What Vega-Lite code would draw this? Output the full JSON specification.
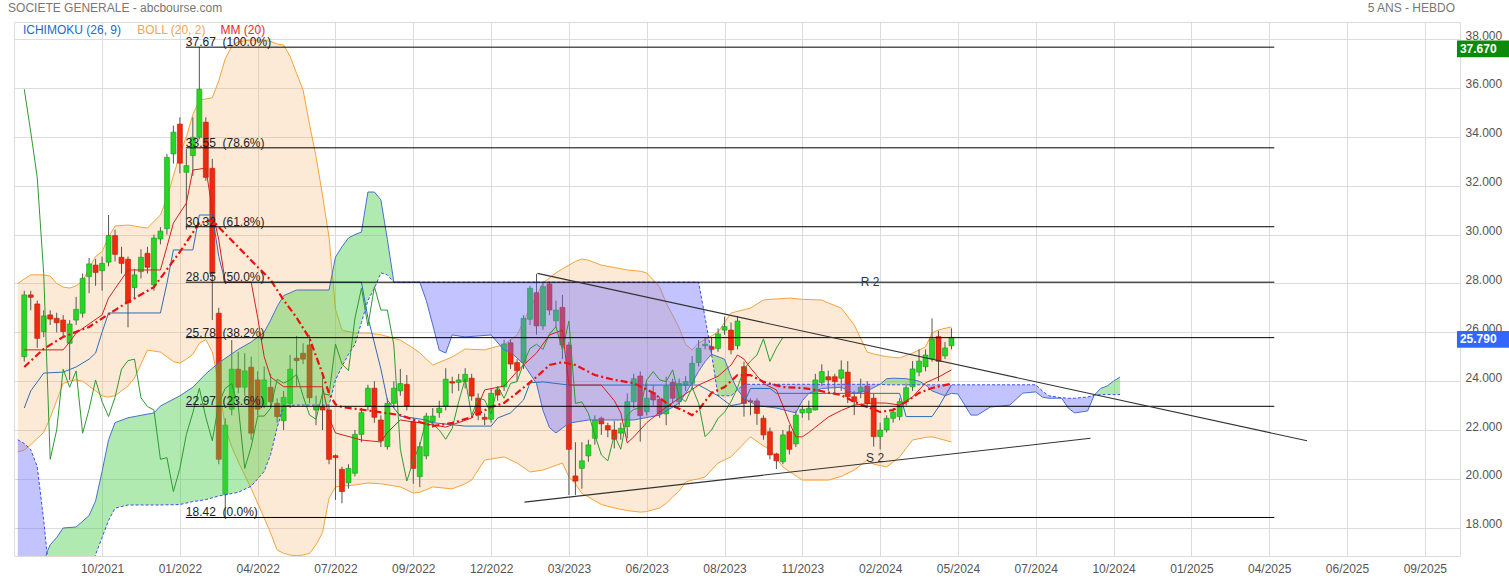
{
"$schema": "https://vega.github.io/schema/vega-lite/v6.json",
"width": 1446, "height": 534,
"autosize": {"type": "none"},
"padding": {"left": 14, "top": 22, "right": 49, "bottom": 24},
"background": "white",
"config": {"view": {"stroke": "#dcdcdc", "strokeWidth": 1}, "font": "Liberation Sans", "text": {"font": "Liberation Sans"}},
"datasets": {
"candles": [
{"d":"2021-08-02","o":25.0,"h":27.7,"l":24.8,"c":27.53,"ck":35.95},
{"d":"2021-08-09","o":27.53,"h":27.7,"l":26.9,"c":27.43,"ck":34.2},
{"d":"2021-08-16","o":27.16,"h":27.3,"l":25.36,"c":25.75,"ck":32.34},
{"d":"2021-08-23","o":26.03,"h":26.9,"l":25.8,"c":26.67,"ck":28.4},
{"d":"2021-08-30","o":26.71,"h":26.9,"l":26.3,"c":26.54,"ck":20.8},
{"d":"2021-09-06","o":26.57,"h":26.8,"l":26.0,"c":26.39,"ck":22.0},
{"d":"2021-09-13","o":26.5,"h":26.7,"l":25.8,"c":26.03,"ck":24.49},
{"d":"2021-09-20","o":25.55,"h":26.5,"l":24.05,"c":26.34,"ck":23.75},
{"d":"2021-09-27","o":26.5,"h":27.45,"l":26.3,"c":26.94,"ck":24.42},
{"d":"2021-10-04","o":26.78,"h":28.4,"l":26.6,"c":28.21,"ck":21.87},
{"d":"2021-10-11","o":28.28,"h":29.04,"l":27.6,"c":28.8,"ck":22.85},
{"d":"2021-10-18","o":28.75,"h":29.0,"l":27.9,"c":28.45,"ck":24.05},
{"d":"2021-10-25","o":28.52,"h":29.1,"l":27.7,"c":28.82,"ck":23.16},
{"d":"2021-11-01","o":28.87,"h":30.8,"l":28.7,"c":29.96,"ck":22.55},
{"d":"2021-11-08","o":29.96,"h":30.2,"l":28.9,"c":29.19,"ck":23.34},
{"d":"2021-11-15","o":29.07,"h":29.5,"l":28.4,"c":28.82,"ck":24.49},
{"d":"2021-11-22","o":28.99,"h":29.1,"l":26.2,"c":27.21,"ck":24.84},
{"d":"2021-11-29","o":27.83,"h":28.6,"l":27.4,"c":28.35,"ck":24.9},
{"d":"2021-12-06","o":28.48,"h":29.4,"l":28.2,"c":29.07,"ck":23.32},
{"d":"2021-12-13","o":29.23,"h":29.5,"l":28.4,"c":28.66,"ck":22.96},
{"d":"2021-12-20","o":27.94,"h":30.0,"l":27.7,"c":29.86,"ck":22.82},
{"d":"2021-12-27","o":29.82,"h":30.3,"l":29.6,"c":30.14,"ck":20.8},
{"d":"2022-01-03","o":30.24,"h":33.3,"l":30.0,"c":33.16,"ck":20.87},
{"d":"2022-01-10","o":33.3,"h":34.46,"l":32.9,"c":34.19,"ck":19.48},
{"d":"2022-01-17","o":34.52,"h":34.8,"l":32.5,"c":32.92,"ck":20.43},
{"d":"2022-01-24","o":32.55,"h":33.5,"l":30.2,"c":32.82,"ck":21.82},
{"d":"2022-01-31","o":33.23,"h":34.8,"l":32.4,"c":33.98,"ck":22.71},
{"d":"2022-02-07","o":33.98,"h":37.67,"l":33.9,"c":35.95,"ck":23.71},
{"d":"2022-02-14","o":34.6,"h":34.8,"l":32.2,"c":32.34,"ck":22.52},
{"d":"2022-02-21","o":32.71,"h":33.1,"l":26.5,"c":28.4,"ck":21.56},
{"d":"2022-02-28","o":26.78,"h":27.0,"l":20.6,"c":20.8,"ck":23.09},
{"d":"2022-03-07","o":19.37,"h":22.48,"l":18.42,"c":22.2,"ck":23.71},
{"d":"2022-03-14","o":22.85,"h":25.68,"l":22.6,"c":24.49,"ck":23.9},
{"d":"2022-03-21","o":24.49,"h":25.2,"l":23.5,"c":23.75,"ck":22.98},
{"d":"2022-03-28","o":23.75,"h":25.14,"l":23.4,"c":24.42,"ck":20.43},
{"d":"2022-04-04","o":24.57,"h":25.0,"l":21.6,"c":21.87,"ck":21.32},
{"d":"2022-04-11","o":24.05,"h":24.4,"l":22.6,"c":22.85,"ck":22.57},
{"d":"2022-04-18","o":23.02,"h":24.6,"l":22.9,"c":24.05,"ck":22.57},
{"d":"2022-04-25","o":23.75,"h":24.3,"l":22.9,"c":23.16,"ck":22.89},
{"d":"2022-05-02","o":23.09,"h":23.3,"l":22.3,"c":22.55,"ck":24.08},
{"d":"2022-05-09","o":22.38,"h":23.6,"l":22.0,"c":23.34,"ck":23.92},
{"d":"2022-05-16","o":23.09,"h":25.07,"l":22.9,"c":24.49,"ck":24.05},
{"d":"2022-05-23","o":24.94,"h":25.85,"l":23.8,"c":24.84,"ck":24.28},
{"d":"2022-05-30","o":25.14,"h":25.55,"l":24.7,"c":24.9,"ck":23.39},
{"d":"2022-06-06","o":25.48,"h":25.89,"l":23.1,"c":23.32,"ck":22.61},
{"d":"2022-06-13","o":22.82,"h":23.4,"l":22.2,"c":22.96,"ck":22.44},
{"d":"2022-06-20","o":22.96,"h":24.18,"l":22.0,"c":22.82,"ck":23.5},
{"d":"2022-06-27","o":22.82,"h":23.0,"l":20.6,"c":20.8,"ck":23.43},
{"d":"2022-07-04","o":20.95,"h":21.0,"l":19.14,"c":20.87,"ck":25.52},
{"d":"2022-07-11","o":20.39,"h":20.5,"l":19.0,"c":19.48,"ck":24.7},
{"d":"2022-07-18","o":19.84,"h":20.6,"l":19.6,"c":20.43,"ck":24.43},
{"d":"2022-07-25","o":20.23,"h":22.0,"l":20.1,"c":21.82,"ck":26.57},
{"d":"2022-08-01","o":21.82,"h":22.9,"l":21.5,"c":22.71,"ck":27.8},
{"d":"2022-08-08","o":22.96,"h":23.85,"l":22.8,"c":23.71,"ck":26.26},
{"d":"2022-08-15","o":23.71,"h":24.0,"l":22.3,"c":22.52,"ck":27.87},
{"d":"2022-08-22","o":22.41,"h":22.6,"l":21.3,"c":21.56,"ck":26.91},
{"d":"2022-08-29","o":21.32,"h":23.3,"l":21.2,"c":23.09,"ck":26.91},
{"d":"2022-09-05","o":23.09,"h":24.0,"l":22.9,"c":23.71,"ck":25.48},
{"d":"2022-09-12","o":23.6,"h":24.5,"l":23.4,"c":23.9,"ck":21.21},
{"d":"2022-09-19","o":23.87,"h":24.25,"l":22.8,"c":22.98,"ck":19.91},
{"d":"2022-09-26","o":22.34,"h":22.5,"l":19.8,"c":20.43,"ck":20.74},
{"d":"2022-10-03","o":20.09,"h":21.5,"l":19.66,"c":21.32,"ck":21.39},
{"d":"2022-10-10","o":20.94,"h":22.7,"l":20.8,"c":22.57,"ck":22.41},
{"d":"2022-10-17","o":22.34,"h":22.9,"l":22.1,"c":22.57,"ck":22.25},
{"d":"2022-10-24","o":22.71,"h":23.2,"l":22.5,"c":22.89,"ck":22.0},
{"d":"2022-10-31","o":22.98,"h":24.53,"l":22.8,"c":24.08,"ck":21.62},
{"d":"2022-11-07","o":23.98,"h":24.18,"l":23.5,"c":23.92,"ck":22.07},
{"d":"2022-11-14","o":23.95,"h":24.3,"l":23.6,"c":24.05,"ck":23.16},
{"d":"2022-11-21","o":23.98,"h":24.53,"l":23.7,"c":24.28,"ck":24.1},
{"d":"2022-11-28","o":24.12,"h":24.3,"l":23.2,"c":23.39,"ck":22.59},
{"d":"2022-12-05","o":23.3,"h":23.5,"l":22.4,"c":22.61,"ck":23.3},
{"d":"2022-12-12","o":22.52,"h":22.68,"l":22.2,"c":22.44,"ck":23.23},
{"d":"2022-12-19","o":22.44,"h":23.7,"l":22.3,"c":23.5,"ck":22.66},
{"d":"2022-12-26","o":23.64,"h":23.8,"l":23.2,"c":23.43,"ck":23.8},
{"d":"2023-01-02","o":23.77,"h":25.7,"l":23.6,"c":25.52,"ck":23.3},
{"d":"2023-01-09","o":25.57,"h":25.7,"l":24.5,"c":24.7,"ck":23.91},
{"d":"2023-01-16","o":24.76,"h":24.9,"l":24.0,"c":24.43,"ck":23.98},
{"d":"2023-01-23","o":24.76,"h":26.7,"l":24.5,"c":26.57,"ck":24.73},
{"d":"2023-01-30","o":26.53,"h":27.9,"l":26.3,"c":27.8,"ck":25.34},
{"d":"2023-02-06","o":27.62,"h":28.39,"l":25.9,"c":26.26,"ck":25.51},
{"d":"2023-02-13","o":26.26,"h":28.07,"l":26.1,"c":27.87,"ck":25.3},
{"d":"2023-02-20","o":27.98,"h":28.07,"l":26.7,"c":26.91,"ck":25.93},
{"d":"2023-02-27","o":26.47,"h":27.3,"l":26.2,"c":26.91,"ck":26.23},
{"d":"2023-03-06","o":27.02,"h":27.53,"l":24.9,"c":25.48,"ck":25.28},
{"d":"2023-03-13","o":25.48,"h":25.6,"l":19.34,"c":21.21,"ck":26.46},
{"d":"2023-03-20","o":20.12,"h":21.5,"l":19.34,"c":19.91,"ck":23.09},
{"d":"2023-03-27","o":20.43,"h":21.5,"l":19.6,"c":20.74,"ck":23.15},
{"d":"2023-04-03","o":20.94,"h":21.6,"l":20.7,"c":21.39,"ck":22.68},
{"d":"2023-04-10","o":21.66,"h":22.6,"l":21.4,"c":22.41,"ck":21.8},
{"d":"2023-04-17","o":22.48,"h":22.55,"l":21.8,"c":22.25,"ck":20.98},
{"d":"2023-04-24","o":22.18,"h":22.3,"l":21.7,"c":22.0,"ck":20.74},
{"d":"2023-05-01","o":22.0,"h":22.38,"l":21.25,"c":21.62,"ck":21.8},
{"d":"2023-05-08","o":21.87,"h":22.3,"l":21.6,"c":22.07,"ck":21.21},
{"d":"2023-05-15","o":22.14,"h":23.5,"l":21.66,"c":23.16,"ck":22.61},
{"d":"2023-05-22","o":23.16,"h":24.3,"l":22.9,"c":24.1,"ck":22.85},
{"d":"2023-05-29","o":24.21,"h":24.4,"l":21.52,"c":22.59,"ck":22.89},
{"d":"2023-06-05","o":22.75,"h":23.91,"l":22.6,"c":23.3,"ck":24.05},
{"d":"2023-06-12","o":23.53,"h":23.84,"l":23.0,"c":23.23,"ck":24.39},
{"d":"2023-06-19","o":23.26,"h":23.36,"l":22.5,"c":22.66,"ck":24.05},
{"d":"2023-06-26","o":22.66,"h":24.18,"l":22.2,"c":23.8,"ck":23.98},
{"d":"2023-07-03","o":23.95,"h":24.1,"l":23.1,"c":23.3,"ck":24.46},
{"d":"2023-07-10","o":23.16,"h":24.1,"l":23.0,"c":23.91,"ck":23.36},
{"d":"2023-07-17","o":23.84,"h":24.2,"l":23.6,"c":23.98,"ck":23.16},
{"d":"2023-07-24","o":23.91,"h":25.03,"l":23.7,"c":24.73,"ck":23.75},
{"d":"2023-07-31","o":24.76,"h":25.68,"l":24.6,"c":25.34,"ck":23.09},
{"d":"2023-08-07","o":25.45,"h":25.8,"l":25.3,"c":25.51,"ck":21.73},
{"d":"2023-08-14","o":25.41,"h":25.8,"l":25.1,"c":25.3,"ck":22.0},
{"d":"2023-08-21","o":25.34,"h":26.16,"l":25.2,"c":25.93,"ck":22.48},
{"d":"2023-08-28","o":26.09,"h":26.64,"l":25.9,"c":26.23,"ck":22.73},
{"d":"2023-09-04","o":26.09,"h":26.4,"l":25.1,"c":25.28,"ck":23.16},
{"d":"2023-09-11","o":25.45,"h":26.67,"l":25.3,"c":26.46,"ck":23.73},
{"d":"2023-09-18","o":24.59,"h":24.8,"l":22.55,"c":23.09,"ck":24.5},
{"d":"2023-09-25","o":23.2,"h":23.3,"l":22.6,"c":23.15,"ck":24.82},
{"d":"2023-10-02","o":23.19,"h":23.3,"l":22.21,"c":22.68,"ck":25.07},
{"d":"2023-10-09","o":22.48,"h":22.6,"l":21.6,"c":21.8,"ck":25.73},
{"d":"2023-10-16","o":21.93,"h":22.1,"l":20.8,"c":20.98,"ck":24.81},
{"d":"2023-10-23","o":21.02,"h":21.07,"l":20.4,"c":20.74,"ck":25.36},
{"d":"2023-10-30","o":20.7,"h":22.0,"l":20.6,"c":21.8,"ck":25.79},
{"d":"2023-11-06","o":21.93,"h":22.2,"l":21.0,"c":21.21},
{"d":"2023-11-13","o":21.43,"h":22.8,"l":21.3,"c":22.61},
{"d":"2023-11-20","o":22.7,"h":23.0,"l":22.5,"c":22.85},
{"d":"2023-11-27","o":22.71,"h":23.2,"l":22.4,"c":22.89},
{"d":"2023-12-04","o":22.82,"h":24.3,"l":22.8,"c":24.05},
{"d":"2023-12-11","o":23.95,"h":24.69,"l":23.8,"c":24.39},
{"d":"2023-12-18","o":24.18,"h":24.43,"l":23.6,"c":24.05},
{"d":"2023-12-25","o":24.18,"h":24.3,"l":23.5,"c":23.98},
{"d":"2024-01-01","o":24.12,"h":24.85,"l":23.6,"c":24.46},
{"d":"2024-01-08","o":24.37,"h":24.82,"l":23.1,"c":23.36},
{"d":"2024-01-15","o":23.36,"h":23.6,"l":22.61,"c":23.16},
{"d":"2024-01-22","o":23.57,"h":24.1,"l":23.3,"c":23.75},
{"d":"2024-01-29","o":23.8,"h":24.0,"l":22.9,"c":23.09},
{"d":"2024-02-05","o":23.3,"h":23.5,"l":21.32,"c":21.73},
{"d":"2024-02-12","o":21.73,"h":22.3,"l":21.2,"c":22.0},
{"d":"2024-02-19","o":22.0,"h":22.6,"l":21.9,"c":22.48},
{"d":"2024-02-26","o":22.48,"h":22.9,"l":22.3,"c":22.73},
{"d":"2024-03-04","o":22.55,"h":23.3,"l":22.4,"c":23.16},
{"d":"2024-03-11","o":23.16,"h":23.9,"l":23.0,"c":23.73},
{"d":"2024-03-18","o":23.77,"h":24.82,"l":23.6,"c":24.5},
{"d":"2024-03-25","o":24.37,"h":25.3,"l":24.2,"c":24.82},
{"d":"2024-04-01","o":24.59,"h":25.3,"l":24.4,"c":25.07},
{"d":"2024-04-08","o":24.91,"h":26.57,"l":24.8,"c":25.73},
{"d":"2024-04-15","o":25.82,"h":26.06,"l":24.0,"c":24.81},
{"d":"2024-04-22","o":25.03,"h":25.6,"l":24.9,"c":25.36},
{"d":"2024-04-29","o":25.45,"h":26.16,"l":25.3,"c":25.79}
],
"boll": [
{"d":"2021-07-26","u":28.0,"l":21.1},{"d":"2021-08-02","u":28.18,"l":21.18},{"d":"2021-08-09","u":28.35,"l":21.4},{"d":"2021-08-23","u":28.35,"l":21.9},{"d":"2021-08-30","u":28.3,"l":22.5},{"d":"2021-09-06","u":28.0,"l":23.2},{"d":"2021-09-13","u":27.85,"l":23.9},{"d":"2021-09-20","u":27.81,"l":24.0},{"d":"2021-09-27","u":27.9,"l":24.05},{"d":"2021-10-04","u":28.1,"l":24.0},{"d":"2021-10-11","u":28.6,"l":23.8},{"d":"2021-10-18","u":29.1,"l":23.6},{"d":"2021-10-25","u":29.3,"l":23.4},{"d":"2021-11-01","u":29.9,"l":23.35},{"d":"2021-11-08","u":30.35,"l":23.4},{"d":"2021-11-22","u":30.39,"l":23.8},{"d":"2021-11-29","u":30.35,"l":24.13},{"d":"2021-12-06","u":30.3,"l":24.7},{"d":"2021-12-13","u":30.27,"l":25.27},{"d":"2021-12-27","u":30.8,"l":25.19},{"d":"2022-01-03","u":31.5,"l":25.0},{"d":"2022-01-10","u":32.4,"l":24.8},{"d":"2022-01-17","u":33.3,"l":24.74},{"d":"2022-01-24","u":34.0,"l":24.9},{"d":"2022-01-31","u":34.9,"l":25.1},{"d":"2022-02-07","u":35.5,"l":25.55},{"d":"2022-02-14","u":35.55,"l":25.7},{"d":"2022-02-21","u":35.6,"l":25.2},{"d":"2022-02-28","u":36.3,"l":23.9},{"d":"2022-03-07","u":37.2,"l":22.1},{"d":"2022-03-14","u":37.7,"l":21.3},{"d":"2022-03-21","u":37.9,"l":20.7},{"d":"2022-04-04","u":37.96,"l":19.6},{"d":"2022-04-18","u":37.96,"l":18.4},{"d":"2022-04-25","u":37.9,"l":17.78},{"d":"2022-05-02","u":37.8,"l":17.09},{"d":"2022-05-09","u":37.76,"l":16.95},{"d":"2022-05-16","u":37.3,"l":16.88},{"d":"2022-05-23","u":36.6,"l":16.86},{"d":"2022-05-30","u":35.92,"l":16.88},{"d":"2022-06-06","u":34.5,"l":16.95},{"d":"2022-06-13","u":33.2,"l":17.3},{"d":"2022-06-20","u":31.6,"l":17.8},{"d":"2022-06-27","u":29.9,"l":19.2},{"d":"2022-07-04","u":26.95,"l":19.67},{"d":"2022-07-11","u":26.09,"l":19.7},{"d":"2022-07-25","u":25.97,"l":19.75},{"d":"2022-08-08","u":25.97,"l":19.83},{"d":"2022-08-22","u":25.9,"l":19.8},{"d":"2022-09-12","u":25.68,"l":19.67},{"d":"2022-09-26","u":25.35,"l":19.42},{"d":"2022-10-03","u":25.15,"l":19.45},{"d":"2022-10-17","u":24.66,"l":19.67},{"d":"2022-11-07","u":24.99,"l":19.59},{"d":"2022-11-21","u":25.32,"l":19.8},{"d":"2022-11-28","u":25.3,"l":19.95},{"d":"2022-12-12","u":25.28,"l":20.77},{"d":"2023-01-02","u":25.5,"l":20.9},{"d":"2023-01-16","u":25.89,"l":20.65},{"d":"2023-01-30","u":26.99,"l":20.28},{"d":"2023-02-13","u":28.02,"l":20.36},{"d":"2023-02-27","u":28.43,"l":20.55},{"d":"2023-03-06","u":28.6,"l":20.65},{"d":"2023-03-13","u":28.75,"l":20.08},{"d":"2023-03-20","u":28.9,"l":19.8},{"d":"2023-03-27","u":29.0,"l":19.4},{"d":"2023-04-03","u":28.95,"l":19.26},{"d":"2023-04-17","u":28.75,"l":18.95},{"d":"2023-05-01","u":28.65,"l":18.81},{"d":"2023-05-15","u":28.55,"l":18.7},{"d":"2023-05-29","u":28.5,"l":18.64},{"d":"2023-06-05","u":28.43,"l":18.66},{"d":"2023-06-19","u":27.85,"l":18.81},{"d":"2023-06-26","u":27.2,"l":19.0},{"d":"2023-07-03","u":26.7,"l":19.26},{"d":"2023-07-10","u":26.18,"l":19.5},{"d":"2023-07-17","u":25.5,"l":19.87},{"d":"2023-07-24","u":25.28,"l":19.95},{"d":"2023-07-31","u":25.56,"l":20.0},{"d":"2023-08-07","u":25.7,"l":20.08},{"d":"2023-08-21","u":26.01,"l":20.65},{"d":"2023-09-04","u":26.79,"l":20.9},{"d":"2023-09-25","u":26.99,"l":21.72},{"d":"2023-10-09","u":27.32,"l":21.35},{"d":"2023-10-16","u":27.35,"l":21.2},{"d":"2023-10-30","u":27.38,"l":20.49},{"d":"2023-11-06","u":27.4,"l":20.3},{"d":"2023-11-20","u":27.35,"l":19.95},{"d":"2023-12-11","u":27.32,"l":19.95},{"d":"2023-12-18","u":27.2,"l":19.95},{"d":"2024-01-01","u":26.99,"l":20.1},{"d":"2024-01-15","u":26.3,"l":20.36},{"d":"2024-01-29","u":25.19,"l":20.77},{"d":"2024-02-05","u":25.11,"l":20.6},{"d":"2024-02-19","u":25.0,"l":20.49},{"d":"2024-03-04","u":24.95,"l":20.9},{"d":"2024-03-18","u":25.15,"l":21.59},{"d":"2024-04-01","u":25.4,"l":21.7},{"d":"2024-04-08","u":25.97,"l":21.72},{"d":"2024-04-15","u":26.1,"l":21.65},{"d":"2024-04-29","u":26.22,"l":21.51}
],
"mm": [
{"d":"2021-08-02","v":24.58},{"d":"2021-08-23","v":25.32},{"d":"2021-09-13","v":25.81},{"d":"2021-10-11","v":26.22},{"d":"2021-11-08","v":26.91},{"d":"2021-11-22","v":27.24},{"d":"2021-12-20","v":27.85},{"d":"2022-01-17","v":29.29},{"d":"2022-02-07","v":30.47},{"d":"2022-02-21","v":30.6},{"d":"2022-02-28","v":30.3},{"d":"2022-03-21","v":29.49},{"d":"2022-04-11","v":28.67},{"d":"2022-04-25","v":28.14},{"d":"2022-05-09","v":27.32},{"d":"2022-05-23","v":26.6},{"d":"2022-06-06","v":25.75},{"d":"2022-06-20","v":24.3},{"d":"2022-06-27","v":23.5},{"d":"2022-07-04","v":23.05},{"d":"2022-07-11","v":22.94},{"d":"2022-08-08","v":22.8},{"d":"2022-09-12","v":22.61},{"d":"2022-10-03","v":22.33},{"d":"2022-10-17","v":22.16},{"d":"2022-11-07","v":22.29},{"d":"2022-11-28","v":22.53},{"d":"2022-12-19","v":22.94},{"d":"2023-01-02","v":23.11},{"d":"2023-01-16","v":23.52},{"d":"2023-02-06","v":24.17},{"d":"2023-02-20","v":24.66},{"d":"2023-03-06","v":24.78},{"d":"2023-03-20","v":24.66},{"d":"2023-04-10","v":24.25},{"d":"2023-05-01","v":24.05},{"d":"2023-05-22","v":23.92},{"d":"2023-06-12","v":23.52},{"d":"2023-06-26","v":23.11},{"d":"2023-07-17","v":22.75},{"d":"2023-07-24","v":22.61},{"d":"2023-07-31","v":22.82},{"d":"2023-08-14","v":23.52},{"d":"2023-08-28","v":23.76},{"d":"2023-09-11","v":24.25},{"d":"2023-09-25","v":24.25},{"d":"2023-10-09","v":23.97},{"d":"2023-10-30","v":23.76},{"d":"2023-11-20","v":23.72},{"d":"2023-12-04","v":23.64},{"d":"2024-01-01","v":23.43},{"d":"2024-01-15","v":23.15},{"d":"2024-01-29","v":22.94},{"d":"2024-02-12","v":22.74},{"d":"2024-02-26","v":22.82},{"d":"2024-03-11","v":23.15},{"d":"2024-03-25","v":23.52},{"d":"2024-04-08","v":23.72},{"d":"2024-04-29","v":23.9}
],
"tk": [
{"d":"2021-08-02","v":25.28},{"d":"2021-09-13","v":25.28},{"d":"2021-09-20","v":25.6},{"d":"2021-09-27","v":25.97},{"d":"2021-10-25","v":26.71},{"d":"2021-11-01","v":27.4},{"d":"2021-11-22","v":28.55},{"d":"2021-12-27","v":28.55},{"d":"2022-01-03","v":29.5},{"d":"2022-01-10","v":30.47},{"d":"2022-01-24","v":31.29},{"d":"2022-01-31","v":32.64},{"d":"2022-02-14","v":32.72},{"d":"2022-02-21","v":31.0},{"d":"2022-02-28","v":29.78},{"d":"2022-03-07","v":28.05},{"d":"2022-04-04","v":28.05},{"d":"2022-04-11","v":26.6},{"d":"2022-04-18","v":25.0},{"d":"2022-04-25","v":24.17},{"d":"2022-05-09","v":23.77},{"d":"2022-06-20","v":23.77},{"d":"2022-06-27","v":22.5},{"d":"2022-07-04","v":21.88},{"d":"2022-08-01","v":21.59},{"d":"2022-08-22","v":21.51},{"d":"2022-08-29","v":21.9},{"d":"2022-09-12","v":22.41},{"d":"2022-10-03","v":22.29},{"d":"2022-10-31","v":22.12},{"d":"2022-11-28","v":22.49},{"d":"2022-12-05","v":23.0},{"d":"2022-12-12","v":23.64},{"d":"2023-01-02","v":23.8},{"d":"2023-01-16","v":24.4},{"d":"2023-01-23","v":24.66},{"d":"2023-02-06","v":25.15},{"d":"2023-02-20","v":25.89},{"d":"2023-03-06","v":26.09},{"d":"2023-03-13","v":23.84},{"d":"2023-04-17","v":23.84},{"d":"2023-05-01","v":23.2},{"d":"2023-05-08","v":22.7},{"d":"2023-05-15","v":21.47},{"d":"2023-05-22","v":21.72},{"d":"2023-06-05","v":22.3},{"d":"2023-06-26","v":22.94},{"d":"2023-07-10","v":23.3},{"d":"2023-07-31","v":23.84},{"d":"2023-08-21","v":24.2},{"d":"2023-09-04","v":24.66},{"d":"2023-09-11","v":25.07},{"d":"2023-09-18","v":24.9},{"d":"2023-09-25","v":24.54},{"d":"2023-10-09","v":23.9},{"d":"2023-10-23","v":23.64},{"d":"2023-10-30","v":23.0},{"d":"2023-11-06","v":22.3},{"d":"2023-11-13","v":21.72},{"d":"2023-11-20","v":21.72},{"d":"2023-11-27","v":21.9},{"d":"2023-12-18","v":22.53},{"d":"2024-01-01","v":22.8},{"d":"2024-01-15","v":23.02},{"d":"2024-02-05","v":23.11},{"d":"2024-02-19","v":23.1},{"d":"2024-03-04","v":23.02},{"d":"2024-03-18","v":23.35},{"d":"2024-04-01","v":23.93},{"d":"2024-04-15","v":24.17},{"d":"2024-04-29","v":24.46}
],
"kj": [
{"d":"2021-08-02","v":22.9},{"d":"2021-08-09","v":23.6},{"d":"2021-08-23","v":24.33},{"d":"2021-09-13","v":24.37},{"d":"2021-09-27","v":24.58},{"d":"2021-10-11","v":24.9},{"d":"2021-10-18","v":25.15},{"d":"2021-10-25","v":26.0},{"d":"2021-11-01","v":26.79},{"d":"2021-12-27","v":26.79},{"d":"2022-01-03","v":28.0},{"d":"2022-01-10","v":29.37},{"d":"2022-01-31","v":29.37},{"d":"2022-02-07","v":30.8},{"d":"2022-02-21","v":30.8},{"d":"2022-02-28","v":29.1},{"d":"2022-03-07","v":28.05},{"d":"2022-08-01","v":28.05},{"d":"2022-08-08","v":26.6},{"d":"2022-08-15","v":25.56},{"d":"2022-08-22","v":24.5},{"d":"2022-08-29","v":23.23},{"d":"2022-09-12","v":22.57},{"d":"2022-10-10","v":22.41},{"d":"2022-10-17","v":22.3},{"d":"2022-11-21","v":22.16},{"d":"2022-12-19","v":22.16},{"d":"2022-12-26","v":22.49},{"d":"2023-01-09","v":22.7},{"d":"2023-01-23","v":23.23},{"d":"2023-01-30","v":23.93},{"d":"2023-02-13","v":23.97},{"d":"2023-03-13","v":23.84},{"d":"2023-07-31","v":23.84},{"d":"2023-08-07","v":23.7},{"d":"2023-08-21","v":23.4},{"d":"2023-09-04","v":23.0},{"d":"2023-09-18","v":23.1},{"d":"2023-09-25","v":23.7},{"d":"2023-10-16","v":23.7},{"d":"2023-10-23","v":23.5},{"d":"2024-03-04","v":23.5},{"d":"2024-03-11","v":22.55},{"d":"2024-04-08","v":22.55},{"d":"2024-04-15","v":22.94},{"d":"2024-04-22","v":23.4},{"d":"2024-04-29","v":23.84}
],
"cloud": [
{"d":"2021-07-26","a":14.5,"b":21.6,"s":"b0"},{"d":"2021-08-02","a":14.8,"b":21.45,"s":"b0"},{"d":"2021-08-09","a":15.2,"b":21.2,"s":"b0"},{"d":"2021-08-16","a":15.7,"b":20.5,"s":"b0"},{"d":"2021-08-23","a":16.4,"b":18.3,"s":"b0"},{"d":"2021-08-26T12:00:00Z","a":17.0,"b":17.0,"s":"b0"},
{"d":"2021-08-26T12:00:00Z","a":17.0,"b":17.0,"s":"g1"},{"d":"2021-08-30","a":17.3,"b":16.3,"s":"g1"},{"d":"2021-09-06","a":17.6,"b":15.5,"s":"g1"},{"d":"2021-09-13","a":17.99,"b":15.2,"s":"g1"},{"d":"2021-09-27","a":18.03,"b":15.2,"s":"g1"},{"d":"2021-10-11","a":18.5,"b":15.8,"s":"g1"},{"d":"2021-10-18","a":19.1,"b":16.9,"s":"g1"},{"d":"2021-10-25","a":20.3,"b":17.6,"s":"g1"},{"d":"2021-11-01","a":21.6,"b":18.3,"s":"g1"},{"d":"2021-11-08","a":22.3,"b":18.8,"s":"g1"},{"d":"2021-11-22","a":22.5,"b":18.93,"s":"g1"},{"d":"2021-12-20","a":22.7,"b":18.93,"s":"g1"},{"d":"2021-12-27","a":22.98,"b":18.93,"s":"g1"},{"d":"2022-01-17","a":23.4,"b":18.95,"s":"g1"},{"d":"2022-01-31","a":23.75,"b":19.07,"s":"g1"},{"d":"2022-02-14","a":24.3,"b":19.15,"s":"g1"},{"d":"2022-02-28","a":24.75,"b":19.3,"s":"g1"},{"d":"2022-03-21","a":25.3,"b":19.45,"s":"g1"},{"d":"2022-04-04","a":25.6,"b":19.7,"s":"g1"},{"d":"2022-04-11","a":25.8,"b":20.0,"s":"g1"},{"d":"2022-04-18","a":26.0,"b":20.3,"s":"g1"},{"d":"2022-04-25","a":26.5,"b":21.0,"s":"g1"},{"d":"2022-05-02","a":27.05,"b":22.1,"s":"g1"},{"d":"2022-05-09","a":27.5,"b":23.0,"s":"g1"},{"d":"2022-05-23","a":27.73,"b":23.02,"s":"g1"},{"d":"2022-06-27","a":27.73,"b":23.02,"s":"g1"},{"d":"2022-07-04","a":29.08,"b":24.05,"s":"g1"},{"d":"2022-07-11","a":29.5,"b":24.6,"s":"g1"},{"d":"2022-07-18","a":29.86,"b":25.1,"s":"g1"},{"d":"2022-07-25","a":30.0,"b":25.5,"s":"g1"},{"d":"2022-08-01","a":30.1,"b":26.4,"s":"g1"},{"d":"2022-08-08","a":31.74,"b":27.3,"s":"g1"},{"d":"2022-08-15","a":31.74,"b":27.8,"s":"g1"},{"d":"2022-08-22","a":31.42,"b":28.43,"s":"g1"},{"d":"2022-08-29","a":29.8,"b":28.35,"s":"g1"},{"d":"2022-09-05","a":28.05,"b":28.05,"s":"g1"},
{"d":"2022-09-05","a":28.05,"b":28.05,"s":"b2"},{"d":"2022-10-03","a":28.05,"b":28.05,"s":"b2"},{"d":"2022-10-10","a":27.3,"b":28.05,"s":"b2"},{"d":"2022-10-17","a":26.3,"b":28.05,"s":"b2"},{"d":"2022-10-24","a":25.27,"b":28.05,"s":"b2"},{"d":"2022-10-31","a":25.15,"b":28.05,"s":"b2"},{"d":"2022-11-07","a":25.89,"b":28.05,"s":"b2"},{"d":"2022-11-21","a":25.81,"b":28.05,"s":"b2"},{"d":"2022-12-05","a":25.85,"b":28.05,"s":"b2"},{"d":"2022-12-19","a":25.89,"b":28.05,"s":"b2"},{"d":"2023-01-02","a":25.27,"b":28.05,"s":"b2"},{"d":"2023-01-09","a":25.19,"b":28.05,"s":"b2"},{"d":"2023-01-23","a":24.7,"b":28.05,"s":"b2"},{"d":"2023-02-06","a":23.9,"b":28.05,"s":"b2"},{"d":"2023-02-13","a":22.8,"b":28.05,"s":"b2"},{"d":"2023-02-20","a":22.1,"b":28.05,"s":"b2"},{"d":"2023-02-27","a":21.88,"b":28.05,"s":"b2"},{"d":"2023-03-13","a":22.28,"b":28.05,"s":"b2"},{"d":"2023-04-03","a":22.41,"b":28.05,"s":"b2"},{"d":"2023-05-22","a":22.41,"b":28.05,"s":"b2"},{"d":"2023-06-19","a":22.61,"b":28.05,"s":"b2"},{"d":"2023-07-10","a":23.1,"b":28.05,"s":"b2"},{"d":"2023-07-17","a":23.5,"b":28.05,"s":"b2"},{"d":"2023-07-24","a":23.93,"b":28.05,"s":"b2"},{"d":"2023-07-31","a":24.4,"b":28.05,"s":"b2"},{"d":"2023-08-07","a":24.8,"b":26.6,"s":"b2"},{"d":"2023-08-14","a":25.1,"b":25.1,"s":"b2"},
{"d":"2023-08-14","a":25.1,"b":25.1,"s":"g3"},{"d":"2023-08-21","a":25.0,"b":23.4,"s":"g3"},{"d":"2023-08-28","a":24.9,"b":23.4,"s":"g3"},{"d":"2023-09-04","a":24.2,"b":23.4,"s":"g3"},{"d":"2023-09-11","a":23.65,"b":23.65,"s":"g3"},
{"d":"2023-09-11","a":23.65,"b":23.65,"s":"b4"},{"d":"2023-09-18","a":23.3,"b":23.87,"s":"b4"},{"d":"2023-10-02","a":23.0,"b":23.87,"s":"b4"},{"d":"2023-10-23","a":22.9,"b":23.87,"s":"b4"},{"d":"2023-11-13","a":22.7,"b":23.87,"s":"b4"},{"d":"2023-11-20","a":23.2,"b":23.87,"s":"b4"},{"d":"2023-11-27","a":23.5,"b":23.87,"s":"b4"},{"d":"2023-12-11","a":23.7,"b":23.87,"s":"b4"},{"d":"2024-01-01","a":23.75,"b":23.87,"s":"b4"},{"d":"2024-01-15","a":23.5,"b":23.87,"s":"b4"},{"d":"2024-01-29","a":23.6,"b":23.87,"s":"b4"},{"d":"2024-02-12","a":23.87,"b":23.87,"s":"b4"},
{"d":"2024-02-12","a":23.87,"b":23.87,"s":"g5"},{"d":"2024-02-19","a":24.1,"b":23.85,"s":"g5"},{"d":"2024-02-26","a":24.12,"b":23.85,"s":"g5"},{"d":"2024-03-11","a":24.1,"b":23.85,"s":"g5"},{"d":"2024-03-25","a":24.0,"b":23.85,"s":"g5"},{"d":"2024-04-01","a":23.85,"b":23.85,"s":"g5"},
{"d":"2024-04-01","a":23.85,"b":23.85,"s":"b6"},{"d":"2024-04-08","a":23.6,"b":23.85,"s":"b6"},{"d":"2024-04-22","a":23.4,"b":23.85,"s":"b6"},{"d":"2024-04-29","a":23.5,"b":23.85,"s":"b6"},{"d":"2024-05-06","a":23.47,"b":23.85,"s":"b6"},{"d":"2024-05-20","a":22.61,"b":23.85,"s":"b6"},{"d":"2024-05-27","a":22.61,"b":23.85,"s":"b6"},{"d":"2024-06-10","a":22.94,"b":23.85,"s":"b6"},{"d":"2024-07-01","a":23.02,"b":23.85,"s":"b6"},{"d":"2024-07-15","a":23.51,"b":23.85,"s":"b6"},{"d":"2024-07-29","a":23.56,"b":23.85,"s":"b6"},{"d":"2024-08-05","a":23.35,"b":23.6,"s":"b6"},{"d":"2024-08-12","a":23.3,"b":23.4,"s":"b6"},{"d":"2024-08-26","a":23.3,"b":23.32,"s":"b6"},{"d":"2024-09-02","a":22.9,"b":23.3,"s":"b6"},{"d":"2024-09-09","a":22.7,"b":23.3,"s":"b6"},{"d":"2024-09-23","a":22.78,"b":23.35,"s":"b6"},{"d":"2024-09-30","a":23.42,"b":23.42,"s":"b6"},
{"d":"2024-09-30","a":23.42,"b":23.42,"s":"g7"},{"d":"2024-10-07","a":23.7,"b":23.45,"s":"g7"},{"d":"2024-10-14","a":23.8,"b":23.45,"s":"g7"},{"d":"2024-10-21","a":24.0,"b":23.45,"s":"g7"},{"d":"2024-10-28","a":24.17,"b":23.45,"s":"g7"}
],
"fib": [
{"v":37.67,"t":"37.67 \u00a0(100.0%)"},{"v":33.55,"t":"33.55 \u00a0(78.6%)"},{"v":30.32,"t":"30.32 \u00a0(61.8%)"},{"v":28.05,"t":"28.05 \u00a0(50.0%)"},{"v":25.78,"t":"25.78 \u00a0(38.2%)"},{"v":22.97,"t":"22.97 \u00a0(23.6%)"},{"v":18.42,"t":"18.42 \u00a0(0.0%)"}
],
"trend": [
{"t":"up","d":"2023-02-07","v":28.41},{"t":"up","d":"2025-05-17T19:00:00Z","v":21.56},{"t":"lo","d":"2023-01-24","v":19.05},{"t":"lo","d":"2024-09-26T02:00:00Z","v":21.66}
]
},
"layer": [
{"data": {"name": "boll"}, "mark": {"type": "area", "color": "#f7b26a", "fillOpacity": 0.28, "clip": true},
 "encoding": {
  "x": {"field": "d", "type": "temporal", "title": null,
   "scale": {"type": "utc", "nice": false, "domain": [{"year":2021,"month":7,"date":27,"hours":7,"minutes":40,"utc":true},{"year":2025,"month":10,"date":24,"hours":14,"utc":true}]},
   "axis": {"orient": "bottom", "title": null, "grid": true, "gridColor": "#dcdcdc", "ticks": false, "domain": false, "labelPadding": 7, "labelFontSize": 12, "labelColor": "#555555", "labelFont": "Liberation Sans", "labelDx": 4, "labelOverlap": false, "labelFlush": false, "labelExpr": "utcFormat(datum.value, '%m/%Y')",
    "values": [{"year":2021,"month":10,"date":25,"utc":true},{"year":2022,"month":1,"date":17,"utc":true},{"year":2022,"month":4,"date":11,"utc":true},{"year":2022,"month":7,"date":4,"utc":true},{"year":2022,"month":9,"date":26,"utc":true},{"year":2022,"month":12,"date":19,"utc":true},{"year":2023,"month":3,"date":13,"utc":true},{"year":2023,"month":6,"date":5,"utc":true},{"year":2023,"month":8,"date":28,"utc":true},{"year":2023,"month":11,"date":20,"utc":true},{"year":2024,"month":2,"date":12,"utc":true},{"year":2024,"month":5,"date":6,"utc":true},{"year":2024,"month":7,"date":29,"utc":true},{"year":2024,"month":10,"date":21,"utc":true},{"year":2025,"month":1,"date":13,"utc":true},{"year":2025,"month":4,"date":7,"utc":true},{"year":2025,"month":6,"date":30,"utc":true},{"year":2025,"month":9,"date":22,"utc":true}]}},
  "y": {"field": "u", "type": "quantitative", "title": null,
   "scale": {"domain": [16.843, 38.7], "nice": false, "zero": false},
   "axis": {"orient": "right", "title": null, "values": [18,20,22,24,26,28,30,32,34,36,38], "format": ".3f", "grid": true, "gridColor": "#dcdcdc", "ticks": false, "tickSize": 0, "domain": false, "labelPadding": 5, "labelFontSize": 12, "labelColor": "#555555", "labelFont": "Liberation Sans", "labelBaseline": "alphabetic", "labelAlign": "left", "labelOverlap": false, "labelFlush": false}},
  "y2": {"field": "l"}}},
{"data": {"name": "boll"}, "mark": {"type": "line", "color": "#f5a33c", "strokeWidth": 1, "clip": true},
 "encoding": {"x": {"field": "d", "type": "temporal", "title": null}, "y": {"field": "u", "type": "quantitative", "title": null}}},
{"data": {"name": "boll"}, "mark": {"type": "line", "color": "#f5a33c", "strokeWidth": 1, "clip": true},
 "encoding": {"x": {"field": "d", "type": "temporal", "title": null}, "y": {"field": "l", "type": "quantitative", "title": null}}},
{"data": {"name": "candles"}, "mark": {"type": "rule", "color": "#555555", "strokeWidth": 1, "clip": true},
 "encoding": {"x": {"field": "d", "type": "temporal", "title": null}, "y": {"field": "l", "type": "quantitative", "title": null}, "y2": {"field": "h"}}},
{"data": {"name": "candles"}, "mark": {"type": "bar", "width": 5, "strokeWidth": 0.6, "clip": true},
 "encoding": {"x": {"field": "d", "type": "temporal", "title": null}, "y": {"field": "o", "type": "quantitative", "title": null}, "y2": {"field": "c"},
  "color": {"condition": {"test": "datum.c >= datum.o", "value": "#25d625"}, "value": "#ee2a10"},
  "stroke": {"condition": {"test": "datum.c >= datum.o", "value": "#159a15"}, "value": "#b81c00"}}},
{"data": {"name": "cloud"}, "mark": {"type": "area", "fillOpacity": 0.42, "clip": true},
 "encoding": {"x": {"field": "d", "type": "temporal", "title": null}, "y": {"field": "a", "type": "quantitative", "title": null}, "y2": {"field": "b"}, "detail": {"field": "s"},
  "color": {"condition": {"test": "substring(datum.s, 0, 1) == 'g'", "value": "#44cc44"}, "value": "#6f6fff"}}},
{"data": {"name": "cloud"}, "mark": {"type": "line", "color": "#4a6fd0", "strokeWidth": 1, "clip": true},
 "encoding": {"x": {"field": "d", "type": "temporal", "title": null}, "y": {"field": "a", "type": "quantitative", "title": null}}},
{"data": {"name": "cloud"}, "mark": {"type": "line", "color": "#3a4ff0", "strokeWidth": 1, "strokeDash": [3, 2], "clip": true},
 "encoding": {"x": {"field": "d", "type": "temporal", "title": null}, "y": {"field": "b", "type": "quantitative", "title": null}}},
{"data": {"name": "kj"}, "mark": {"type": "line", "color": "#2f6db5", "strokeWidth": 1, "clip": true},
 "encoding": {"x": {"field": "d", "type": "temporal", "title": null}, "y": {"field": "v", "type": "quantitative", "title": null}}},
{"data": {"name": "tk"}, "mark": {"type": "line", "color": "#d42020", "strokeWidth": 1, "clip": true},
 "encoding": {"x": {"field": "d", "type": "temporal", "title": null}, "y": {"field": "v", "type": "quantitative", "title": null}}},
{"data": {"name": "candles"}, "mark": {"type": "line", "color": "#2e9a2e", "strokeWidth": 1, "clip": true},
 "encoding": {"x": {"field": "d", "type": "temporal", "title": null}, "y": {"field": "ck", "type": "quantitative", "title": null}}},
{"data": {"name": "mm"}, "mark": {"type": "line", "color": "#ee1010", "strokeWidth": 2.2, "strokeDash": [7, 3, 2, 3], "clip": true},
 "encoding": {"x": {"field": "d", "type": "temporal", "title": null}, "y": {"field": "v", "type": "quantitative", "title": null}}},
{"data": {"name": "fib"}, "mark": {"type": "rule", "color": "#000000", "strokeWidth": 1},
 "encoding": {"x": {"datum": {"year":2022,"month":1,"date":23,"hours":10,"utc":true}, "type": "temporal", "title": null}, "x2": {"datum": {"year":2025,"month":4,"date":12,"hours":12,"utc":true}}, "y": {"field": "v", "type": "quantitative", "title": null}}},
{"data": {"name": "fib"}, "mark": {"type": "text", "align": "left", "baseline": "alphabetic", "dy": -1, "fontSize": 12, "color": "#222222", "font": "Liberation Sans"},
 "encoding": {"x": {"datum": {"year":2022,"month":1,"date":23,"hours":10,"utc":true}, "type": "temporal", "title": null}, "y": {"field": "v", "type": "quantitative", "title": null}, "text": {"field": "t"}}},
{"data": {"name": "trend"}, "mark": {"type": "line", "color": "#333333", "strokeWidth": 1.1, "clip": true},
 "encoding": {"x": {"field": "d", "type": "temporal", "title": null}, "y": {"field": "v", "type": "quantitative", "title": null}, "detail": {"field": "t"}}},
{"data": {"values": [{}]}, "mark": {"type": "text", "align": "center", "baseline": "middle", "fontSize": 12, "color": "#333333", "text": "R 2"},
 "encoding": {"x": {"datum": {"year":2024,"month":2,"date":1,"hours":2,"utc":true}, "type": "temporal", "title": null}, "y": {"datum": 28.05, "type": "quantitative", "title": null}}},
{"data": {"values": [{}]}, "mark": {"type": "text", "align": "center", "baseline": "middle", "fontSize": 12, "color": "#333333", "text": "S 2"},
 "encoding": {"x": {"datum": {"year":2024,"month":2,"date":6,"hours":12,"utc":true}, "type": "temporal", "title": null}, "y": {"datum": 20.85, "type": "quantitative", "title": null}}},
{"data": {"values": [{}]}, "mark": {"type": "text", "align": "left", "baseline": "middle", "fontSize": 12, "color": "#1f68c8", "text": "ICHIMOKU (26, 9)"},
 "encoding": {"x": {"datum": {"year":2021,"month":7,"date":31,"hours":14,"utc":true}, "type": "temporal", "title": null}, "y": {"datum": 38.37, "type": "quantitative", "title": null}}},
{"data": {"values": [{}]}, "mark": {"type": "text", "align": "left", "baseline": "middle", "fontSize": 12, "color": "#f5a54a", "text": "BOLL (20, 2)"},
 "encoding": {"x": {"datum": {"year":2021,"month":12,"date":1,"hours":22,"utc":true}, "type": "temporal", "title": null}, "y": {"datum": 38.37, "type": "quantitative", "title": null}}},
{"data": {"values": [{}]}, "mark": {"type": "text", "align": "left", "baseline": "middle", "fontSize": 12, "color": "#e52b2b", "text": "MM (20)"},
 "encoding": {"x": {"datum": {"year":2022,"month":3,"date":1,"hours":21,"utc":true}, "type": "temporal", "title": null}, "y": {"datum": 38.37, "type": "quantitative", "title": null}}},
{"data": {"values": [{}]}, "mark": {"type": "text", "align": "left", "baseline": "middle", "fontSize": 12, "color": "#777777", "text": "SOCIETE GENERALE - abcbourse.com"},
 "encoding": {"x": {"datum": {"year":2021,"month":7,"date":15,"hours":12,"utc":true}, "type": "temporal", "title": null}, "y": {"datum": 39.27, "type": "quantitative", "title": null}}},
{"data": {"values": [{}]}, "mark": {"type": "text", "align": "right", "baseline": "middle", "fontSize": 12, "color": "#777777", "text": "5 ANS - HEBDO"},
 "encoding": {"x": {"datum": {"year":2025,"month":10,"date":24,"hours":14,"utc":true}, "type": "temporal", "title": null}, "y": {"datum": 39.27, "type": "quantitative", "title": null}}},
{"data": {"values": [{}]}, "mark": {"type": "rect", "color": "#0c8a0c"},
 "encoding": {"x": {"datum": {"year":2025,"month":10,"date":26,"hours":17,"utc":true}, "type": "temporal", "title": null}, "x2": {"datum": {"year":2026,"month":1,"date":1,"utc":true}}, "y": {"datum": 37.94, "type": "quantitative", "title": null}, "y2": {"datum": 37.26}}},
{"data": {"values": [{}]}, "mark": {"type": "text", "align": "left", "baseline": "middle", "fontSize": 12, "fontWeight": "bold", "color": "#ffffff", "text": "37.670"},
 "encoding": {"x": {"datum": {"year":2025,"month":10,"date":29,"hours":22,"utc":true}, "type": "temporal", "title": null}, "y": {"datum": 37.6, "type": "quantitative", "title": null}}},
{"data": {"values": [{}]}, "mark": {"type": "rect", "color": "#3366ff"},
 "encoding": {"x": {"datum": {"year":2025,"month":10,"date":26,"hours":17,"utc":true}, "type": "temporal", "title": null}, "x2": {"datum": {"year":2026,"month":1,"date":1,"utc":true}}, "y": {"datum": 26.05, "type": "quantitative", "title": null}, "y2": {"datum": 25.37}}},
{"data": {"values": [{}]}, "mark": {"type": "text", "align": "left", "baseline": "middle", "fontSize": 12, "fontWeight": "bold", "color": "#ffffff", "text": "25.790"},
 "encoding": {"x": {"datum": {"year":2025,"month":10,"date":29,"hours":22,"utc":true}, "type": "temporal", "title": null}, "y": {"datum": 25.71, "type": "quantitative", "title": null}}}
]
}
